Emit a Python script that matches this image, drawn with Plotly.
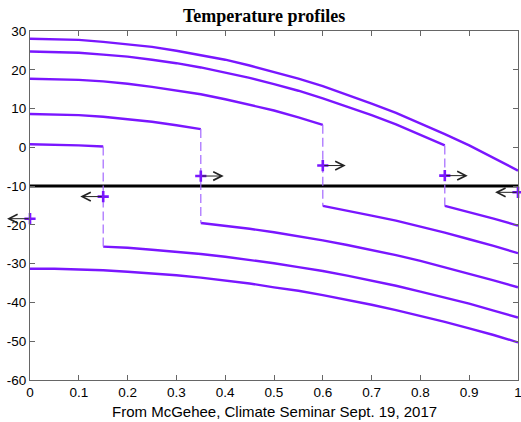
import plotly.graph_objects as go

# ---- data ----
xs = [0.00, 0.05, 0.10, 0.15, 0.20, 0.25, 0.30, 0.35, 0.40, 0.45, 0.50,
      0.55, 0.60, 0.65, 0.70, 0.75, 0.80, 0.85, 0.90, 0.95, 1.00]

T_a = [28.0, 27.9, 27.7, 27.2, 26.6, 25.9, 24.9, 23.8, 22.6, 21.1, 19.5,
       17.7, 15.8, 13.6, 11.3, 8.9, 6.2, 3.4, 0.5, -2.7, -6.0]

T_b_warm = [24.7, 24.6, 24.4, 23.9, 23.4, 22.6, 21.7, 20.6, 19.3, 17.9, 16.3,
            14.6, 12.6, 10.5, 8.3, 5.9, 3.3, 0.5]
T_b_cold = [-15.1, -16.7, -18.4, -20.2]

T_c_warm = [17.7, 17.6, 17.4, 17.0, 16.4, 15.6, 14.7, 13.7, 12.4, 11.0, 9.5, 7.7, 5.8]
T_c_cold = [-15.1, -16.3, -17.6, -18.9, -20.4, -22.0, -23.7, -25.4, -27.3]

T_d_warm = [8.6, 8.5, 8.3, 7.9, 7.3, 6.6, 5.7, 4.7]
T_d_cold = [-19.5, -20.2, -21.0, -21.9, -22.9, -24.0, -25.2, -26.5, -27.8, -29.3,
            -30.9, -32.5, -34.3, -36.1]

T_e_warm = [0.8, 0.7, 0.5, 0.2]
T_e_cold = [-25.6, -25.9, -26.4, -26.9, -27.5, -28.2, -29.0, -29.9, -30.9, -31.9,
            -33.1, -34.4, -35.7, -37.2, -38.7, -40.3, -42.1, -43.9]

T_f = [-31.3, -31.3, -31.5, -31.7, -32.1, -32.5, -33.0, -33.6, -34.3, -35.1, -36.1,
       -37.0, -38.1, -39.3, -40.6, -42.0, -43.5, -45.0, -46.7, -48.4, -50.3]

ice_lines = [0.85, 0.60, 0.35, 0.15]
marker_x = [0.0, 0.15, 0.35, 0.60, 0.85, 1.0]
marker_T = [-18.4, -12.7, -7.4, -4.7, -7.3, -11.6]
arrow_dir = [-1, -1, 1, 1, 1, -1]
threshold_T = -10

x_ticks = [0, 0.1, 0.2, 0.3, 0.4, 0.5, 0.6, 0.7, 0.8, 0.9, 1]
x_tick_text = ["0", "0.1", "0.2", "0.3", "0.4", "0.5", "0.6", "0.7", "0.8", "0.9", "1"]
y_ticks = [30, 20, 10, 0, -10, -20, -30, -40, -50, -60]
y_tick_text = ["30", "20", "10", "0", "-10", "-20", "-30", "-40", "-50", "-60"]

PURPLE = "#7a16ff"
LIGHT_PURPLE = "#a468ff"

fig = go.Figure()

# threshold line
fig.add_trace(go.Scatter(x=[0, 1], y=[threshold_T, threshold_T], mode="lines",
                         line=dict(color="black", width=3), hoverinfo="skip"))

def add_line(xv, yv):
    fig.add_trace(go.Scatter(x=xv, y=yv, mode="lines",
                             line=dict(color=PURPLE, width=2.4), hoverinfo="skip"))

add_line(xs, T_a)
add_line(xs, T_f)
pairs = [(T_b_warm, T_b_cold), (T_c_warm, T_c_cold), (T_d_warm, T_d_cold), (T_e_warm, T_e_cold)]
for ice, (warm, cold) in zip(ice_lines, pairs):
    add_line(xs[:len(warm)], warm)
    add_line(xs[-len(cold):], cold)
    fig.add_trace(go.Scatter(x=[ice, ice], y=[warm[-1], cold[0]], mode="lines",
                             line=dict(color=LIGHT_PURPLE, width=1.2, dash="9px,4px"),
                             hoverinfo="skip"))

# markers
fig.add_trace(go.Scatter(x=marker_x, y=marker_T, mode="markers", cliponaxis=False,
                         marker=dict(symbol="cross-thin", size=8,
                                     line=dict(color=PURPLE, width=2.6)),
                         hoverinfo="skip"))

# arrows
for mx, mt, d in zip(marker_x, marker_T, arrow_dir):
    fig.add_annotation(x=mx + d * 0.047, y=mt, ax=mx, ay=mt, xref="x", yref="y",
                       axref="x", ayref="y", showarrow=True, arrowhead=5,
                       arrowsize=1.7, arrowwidth=1, arrowcolor="#222", text="")

fig.add_annotation(text="<b>Temperature profiles</b>", xref="paper", yref="paper",
                   x=0.48, y=1, yanchor="bottom", yshift=3, showarrow=False,
                   font=dict(family="Liberation Serif", size=18, color="black"))
fig.add_annotation(text="From McGehee, Climate Seminar Sept. 19, 2017", xref="paper",
                   yref="paper", x=0.5, y=0, yanchor="top", yshift=-21, showarrow=False,
                   font=dict(family="Liberation Sans", size=15, color="black"))

axis_common = dict(showline=True, linecolor="#666", linewidth=1, mirror="allticks",
                   ticks="inside", ticklen=5, tickcolor="#666", showgrid=False,
                   zeroline=False, ticklabeloverflow="allow", automargin=False,
                   tickfont=dict(family="Liberation Sans", size=13.5, color="black"))
fig.update_xaxes(range=[0, 1], tickvals=x_ticks, ticktext=x_tick_text, **axis_common)
fig.update_yaxes(range=[-60, 30], tickvals=y_ticks, ticktext=y_tick_text, **axis_common)

fig.update_layout(width=521, height=422, showlegend=False,
                  margin=dict(l=30, r=3, t=31, b=42),
                  plot_bgcolor="white", paper_bgcolor="white")

fig.write_html("out.html")
